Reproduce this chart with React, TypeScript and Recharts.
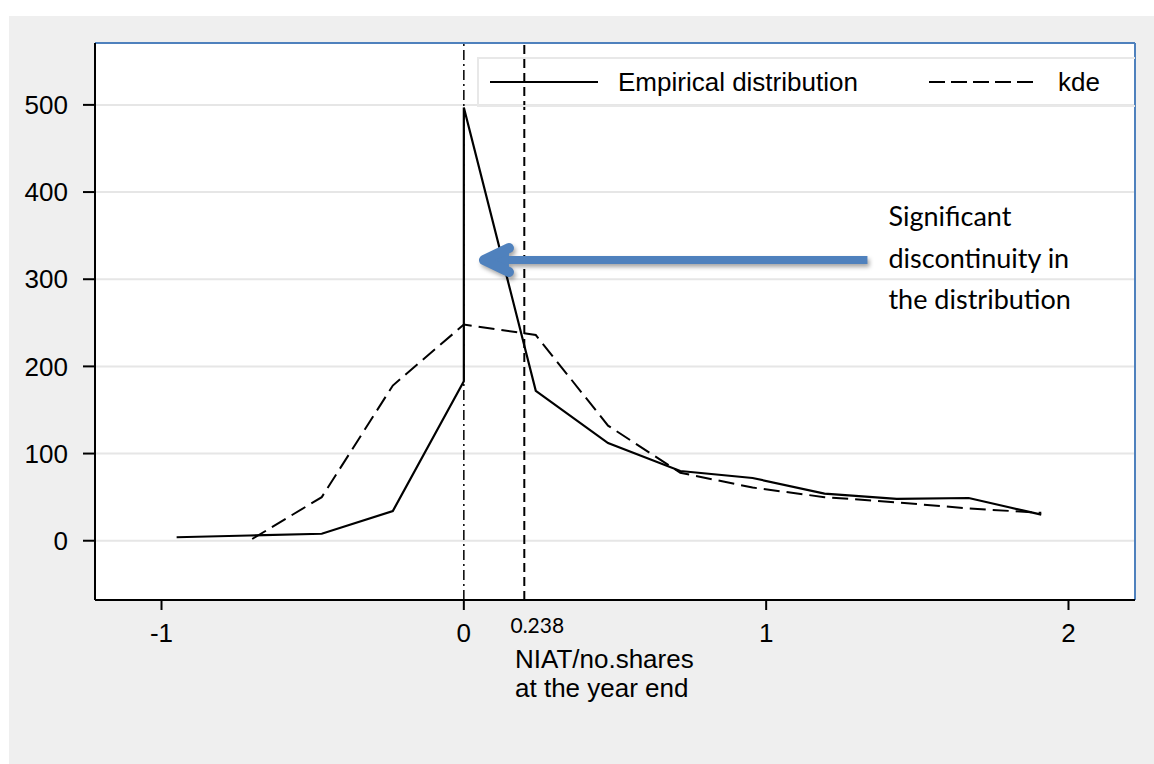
import { LineChart, Line, XAxis, YAxis, CartesianGrid, ReferenceLine, Legend } from 'recharts'

// empirical histogram polygon (jump at zero drawn as two points at x = 0)
const EMPIRICAL_X = [-0.95, -0.71, -0.47, -0.235, 0, 0, 0.238, 0.477, 0.716, 0.955, 1.193, 1.432, 1.67, 1.91]
const EMPIRICAL_Y = [4, 6, 8, 34, 183, 497, 172, 112, 80, 72, 54, 48, 49, 30]

// kernel density estimate, same scale
const KDE_X = [-0.7, -0.47, -0.235, 0, 0.238, 0.477, 0.716, 0.955, 1.193, 1.432, 1.67, 1.91]
const KDE_Y = [2, 50, 178, 248, 236, 132, 78, 61, 50, 44, 37, 32]

const SERIES_NAMES = ['Empirical distribution', 'kde']
const X_TICKS = [-1, 0, 1, 2]
const Y_TICKS = [0, 100, 200, 300, 400, 500]
const X_DOMAIN = [-1.22, 2.22]
const Y_DOMAIN = [-68, 571]

const ZERO_X = 0
const CUTOFF_X = 0.2
const CUTOFF_LABEL = '0.238'
const AXIS_TITLE = ['NIAT/no.shares', 'at the year end']
const NOTE_LINES = ['Significant', 'discontinuity in', 'the distribution']
const ARROW_FROM = { x: 1.335, y: 322 }
const ARROW_TO = { x: 0.05, y: 322 }

const empirical = EMPIRICAL_X.map((x, i) => ({ x, y: EMPIRICAL_Y[i] }))
const kde = KDE_X.map((x, i) => ({ x, y: KDE_Y[i] }))

const ARIAL = '"Liberation Sans", Arial, sans-serif'
const CALIBRI = 'Lato, "Open Sans", sans-serif'
const BLUE = '#4f81bd'

// eslint-disable-next-line @typescript-eslint/no-explicit-any
const Arrow = (props: any) => {
  const { x1, y1, x2, y2 } = props
  return (
    <g>
      <g style={{ filter: 'drop-shadow(2px 3px 2px rgba(0,0,0,0.35))' }}>
        <line x1={x1} y1={y1} x2={x2 + 14} y2={y2} stroke={BLUE} strokeWidth={8} />
        <polyline
          points={`${x2 + 30},${y2 - 12} ${x2 + 5},${y2} ${x2 + 30},${y2 + 12}`}
          fill={BLUE}
          stroke={BLUE}
          strokeWidth={10}
          strokeLinecap="round"
          strokeLinejoin="round"
        />
      </g>
      <text x={x1 + 22} y={y1} fontFamily={CALIBRI} fontSize={27} fill="#000">
        {NOTE_LINES.map((t, i) => (
          <tspan key={t} x={x1 + 21} y={y1 - 34 + i * 41.5}>{t}</tspan>
        ))}
      </text>
    </g>
  )
}

// eslint-disable-next-line @typescript-eslint/no-explicit-any
const AxisTitle = ({ viewBox }: any) => (
  <text fontFamily={ARIAL} fontSize={26} fill="#000">
    {AXIS_TITLE.map((t, i) => (
      <tspan key={t} x={viewBox.x + 420} y={viewBox.y + 68 + i * 29}>{t}</tspan>
    ))}
  </text>
)

// eslint-disable-next-line @typescript-eslint/no-explicit-any
const CutoffLabel = ({ viewBox }: any) => (
  <text
    x={viewBox.x + 13}
    y={viewBox.y + viewBox.height + 33}
    textAnchor="middle"
    fontFamily={CALIBRI}
    fontSize={21}
    fill="#000"
  >
    {CUTOFF_LABEL}
  </text>
)

const LegendBox = () => (
  <div
    style={{
      position: 'relative', width: 658, height: 50, boxSizing: 'border-box',
      border: '2px solid #e8e8e8', borderRight: 'none', fontFamily: ARIAL, fontSize: 26, color: '#000',
    }}
  >
    <svg width={658} height={50} style={{ position: 'absolute', left: -2, top: -2 }}>
      <line x1={13} x2={121} y1={25} y2={25} stroke="#000" strokeWidth={2} />
      <line x1={452} x2={561} y1={25} y2={25} stroke="#000" strokeWidth={2} strokeDasharray="16 6" />
    </svg>
    <span style={{ position: 'absolute', left: 139, top: 8, lineHeight: '30px' }}>{SERIES_NAMES[0]}</span>
    <span style={{ position: 'absolute', left: 579, top: 8, lineHeight: '30px' }}>{SERIES_NAMES[1]}</span>
  </div>
)

export default function App() {
  return (
    <div style={{ position: 'relative', width: 1154, height: 764 }}>
      <style>{'body { margin: 0; }'}</style>
      <div style={{ position: 'absolute', left: 9, top: 16, width: 1145, height: 748, background: '#efefef' }} />
      <div style={{ position: 'absolute', left: 0, top: 0 }}>
        <LineChart width={1154} height={764} margin={{ top: 43, right: 19, left: 0, bottom: 124 }}>
          <CartesianGrid vertical={false} fill="#fff" stroke="#e6e6e6" strokeWidth={2} />
          <XAxis
            type="number"
            dataKey="x"
            domain={X_DOMAIN}
            ticks={X_TICKS}
            allowDataOverflow
            height={40}
            tickSize={10}
            tickMargin={14}
            axisLine={{ stroke: '#000', strokeWidth: 2 }}
            tickLine={{ stroke: '#000', strokeWidth: 2 }}
            tick={{ fill: '#000', fontSize: 26, fontFamily: ARIAL }}
            label={<AxisTitle />}
          />
          <YAxis
            type="number"
            dataKey="y"
            domain={Y_DOMAIN}
            ticks={Y_TICKS}
            allowDataOverflow
            width={95}
            tickSize={12}
            tickMargin={15}
            axisLine={{ stroke: '#000', strokeWidth: 2 }}
            tickLine={{ stroke: '#000', strokeWidth: 2 }}
            tick={{ fill: '#000', fontSize: 26, fontFamily: ARIAL }}
          />
          <ReferenceLine y={Y_DOMAIN[1]} stroke={BLUE} strokeWidth={2} />
          <ReferenceLine x={X_DOMAIN[1]} stroke={BLUE} strokeWidth={2} />
          <ReferenceLine x={ZERO_X} stroke="#000" strokeWidth={1.5} strokeDasharray="10 4 2 4" />
          <ReferenceLine x={CUTOFF_X} stroke="#000" strokeWidth={2} strokeDasharray="9 5" label={<CutoffLabel />} />
          <Legend
            layout="horizontal"
            verticalAlign="middle"
            align="center"
            content={<LegendBox />}
            wrapperStyle={{ left: 477, top: 57, width: 658, height: 50 }}
          />
          <Line
            data={kde}
            dataKey="y"
            name={SERIES_NAMES[1]}
            type="linear"
            stroke="#000"
            strokeWidth={2}
            strokeDasharray="16 7"
            dot={false}
            isAnimationActive={false}
          />
          <Line
            data={empirical}
            dataKey="y"
            name={SERIES_NAMES[0]}
            type="linear"
            stroke="#000"
            strokeWidth={2.2}
            dot={false}
            isAnimationActive={false}
          />
          <ReferenceLine segment={[ARROW_FROM, ARROW_TO]} shape={<Arrow />} />
        </LineChart>
      </div>
    </div>
  )
}
